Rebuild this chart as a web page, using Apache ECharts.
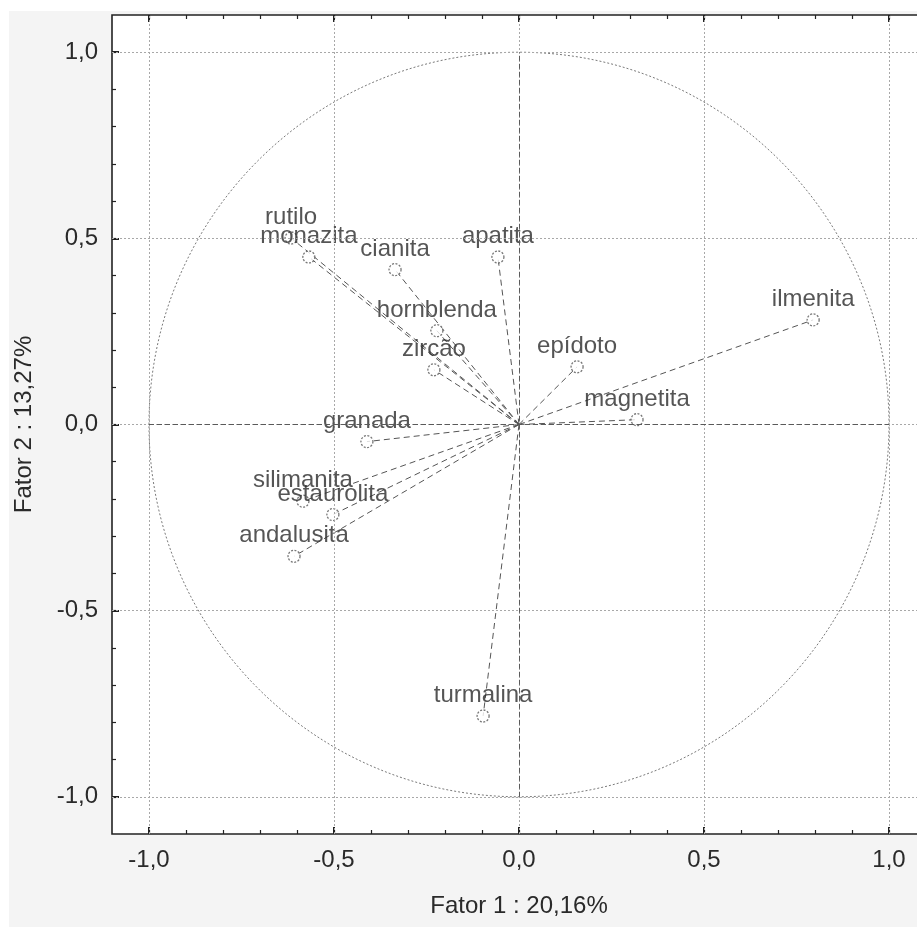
<!DOCTYPE html>
<html>
<head>
<meta charset="utf-8">
<script src="https://cdn.jsdelivr.net/npm/echarts@6/dist/echarts.min.js"></script>
<style>
html,body{margin:0;padding:0;background:#fff;}
#c{width:917px;height:927px;}
</style>
</head>
<body>
<div id="c"></div>
<script>
// ---- data ----
const names = ['rutilo','monazita','cianita','apatita','hornblenda','zircão','epídoto','ilmenita','magnetita','granada','silimanita','estaurolita','andalusita','turmalina'];
const fator1 = [-0.616,-0.568,-0.335,-0.057,-0.222,-0.230,0.157,0.795,0.319,-0.411,-0.584,-0.503,-0.608,-0.097];
const fator2 = [0.501,0.450,0.416,0.450,0.252,0.147,0.155,0.281,0.013,-0.046,-0.206,-0.242,-0.354,-0.783];
const majorTicks = [-1.0,-0.5,0.0,0.5,1.0];
const minorTicks = [-1.0,-0.9,-0.8,-0.7,-0.6,-0.5,-0.4,-0.3,-0.2,-0.1,0.0,0.1,0.2,0.3,0.4,0.5,0.6,0.7,0.8,0.9,1.0];
const gridValues = [-1.0,-0.5,0.0,0.5,1.0];
const xTitle = 'Fator 1 : 20,16%';
const yTitle = 'Fator 2 : 13,27%';
const axisMin = -1.1, axisMax = 1.1;

const FONT = '"Liberation Sans", Arial, sans-serif';
const TXT = '#2a2a2a';
const fmt = v => (Math.abs(v) < 1e-9 ? 0 : v).toFixed(1).replace('.', ',');

const chart = echarts.init(document.getElementById('c'), null, {renderer:'canvas'});

function mkX(pos, major, showLabel, name){
  return {
    type:'value', min:axisMin, max:axisMax, position:pos,
    axisLine:{show:false, onZero:false}, splitLine:{show:false},
    axisTick:{show:true, inside:true, length: major?7:4, customValues: major?majorTicks:minorTicks,
      lineStyle:{color:'#222', width: major?2:1.2}},
    axisLabel:{show:showLabel, customValues:majorTicks, formatter:fmt, color:TXT, fontSize:24, fontFamily:FONT, margin:14},
    name: name || '', nameLocation:'middle', nameGap:60,
    nameTextStyle:{color:TXT, fontSize:24, fontFamily:FONT}
  };
}
function mkY(major, showLabel, name){
  return {
    type:'value', min:axisMin, max:axisMax, position:'left',
    axisLine:{show:false, onZero:false}, splitLine:{show:false},
    axisTick:{show:true, inside:true, length: major?7:4, customValues: major?majorTicks:minorTicks,
      lineStyle:{color:'#222', width: major?2:1.2}},
    axisLabel:{show:showLabel, customValues:majorTicks, formatter:fmt, color:TXT, fontSize:24, fontFamily:FONT, margin:14},
    name: name || '', nameLocation:'middle', nameGap:76, nameRotate:90,
    nameTextStyle:{color:TXT, fontSize:24, fontFamily:FONT}
  };
}

const points = fator1.map((x,i)=>({name:names[i], value:[x, fator2[i]]}));

const option = {
  animation:false,
  backgroundColor:'#fff',
  graphic:[{type:'rect', left:9, top:11, shape:{width:908, height:916}, style:{fill:'#f4f4f4'}, z:-10, silent:true}],
  grid:{left:112, top:15, width:814, height:819, show:true, backgroundColor:'#fff', borderColor:'#222', borderWidth:1.6, containLabel:false, outerBoundsMode:'none'},
  xAxis:[mkX('bottom',true,true,xTitle), mkX('bottom',false,false), mkX('top',true,false), mkX('top',false,false)],
  yAxis:[mkY(true,true,yTitle), mkY(false,false)],
  series:[
    { // grid lines + zero axes
      type:'scatter', data:[], xAxisIndex:0, yAxisIndex:0, silent:true,
      markLine:{
        silent:true, symbol:'none', animation:false, label:{show:false},
        lineStyle:{type:[2,2], color:'#a8a8a8', width:1},
        data: gridValues.map(v=>({xAxis:v})).concat(gridValues.map(v=>({yAxis:v}))).concat([
          [{coord:[0,-1], lineStyle:{type:[5,3], color:'#5a5a5a', width:1}}, {coord:[0,1]}],
          [{coord:[-1,0], lineStyle:{type:[5,3], color:'#5a5a5a', width:1}}, {coord:[1,0]}]
        ])
      },
      z:1
    },
    { // unit circle
      type:'custom', xAxisIndex:0, yAxisIndex:0, silent:true, z:2,
      data:[[0,0]],
      renderItem:(params, api)=>{
        const c = api.coord([api.value(0), api.value(1)]);
        const s = api.size([1,1]);
        return {type:'ellipse', shape:{cx:c[0], cy:c[1], rx:s[0], ry:s[1]},
          style:{fill:'none', stroke:'#7a7a7a', lineWidth:1, lineDash:[2,2]}};
      }
    },
    { // vectors from origin
      type:'custom', xAxisIndex:0, yAxisIndex:0, silent:true, z:3,
      data: fator1.map((x,i)=>[x, fator2[i]]),
      renderItem:(params, api)=>{
        const o = api.coord([0,0]);
        const p = api.coord([api.value(0), api.value(1)]);
        return {type:'line', shape:{x1:o[0], y1:o[1], x2:p[0], y2:p[1]},
          style:{stroke:'#555', lineWidth:1, lineDash:[6,4]}};
      }
    },
    { // points
      type:'scatter', xAxisIndex:0, yAxisIndex:0, z:4,
      symbol:'circle', symbolSize:12,
      itemStyle:{color:'#fff', borderColor:'#555', borderWidth:1.3, borderType:[2,1.5]},
      label:{show:true, position:'top', distance:2, formatter:p=>p.name, color:TXT, fontSize:24, fontFamily:FONT},
      data: points
    }
  ]
};
chart.setOption(option);
</script>
</body>
</html>
